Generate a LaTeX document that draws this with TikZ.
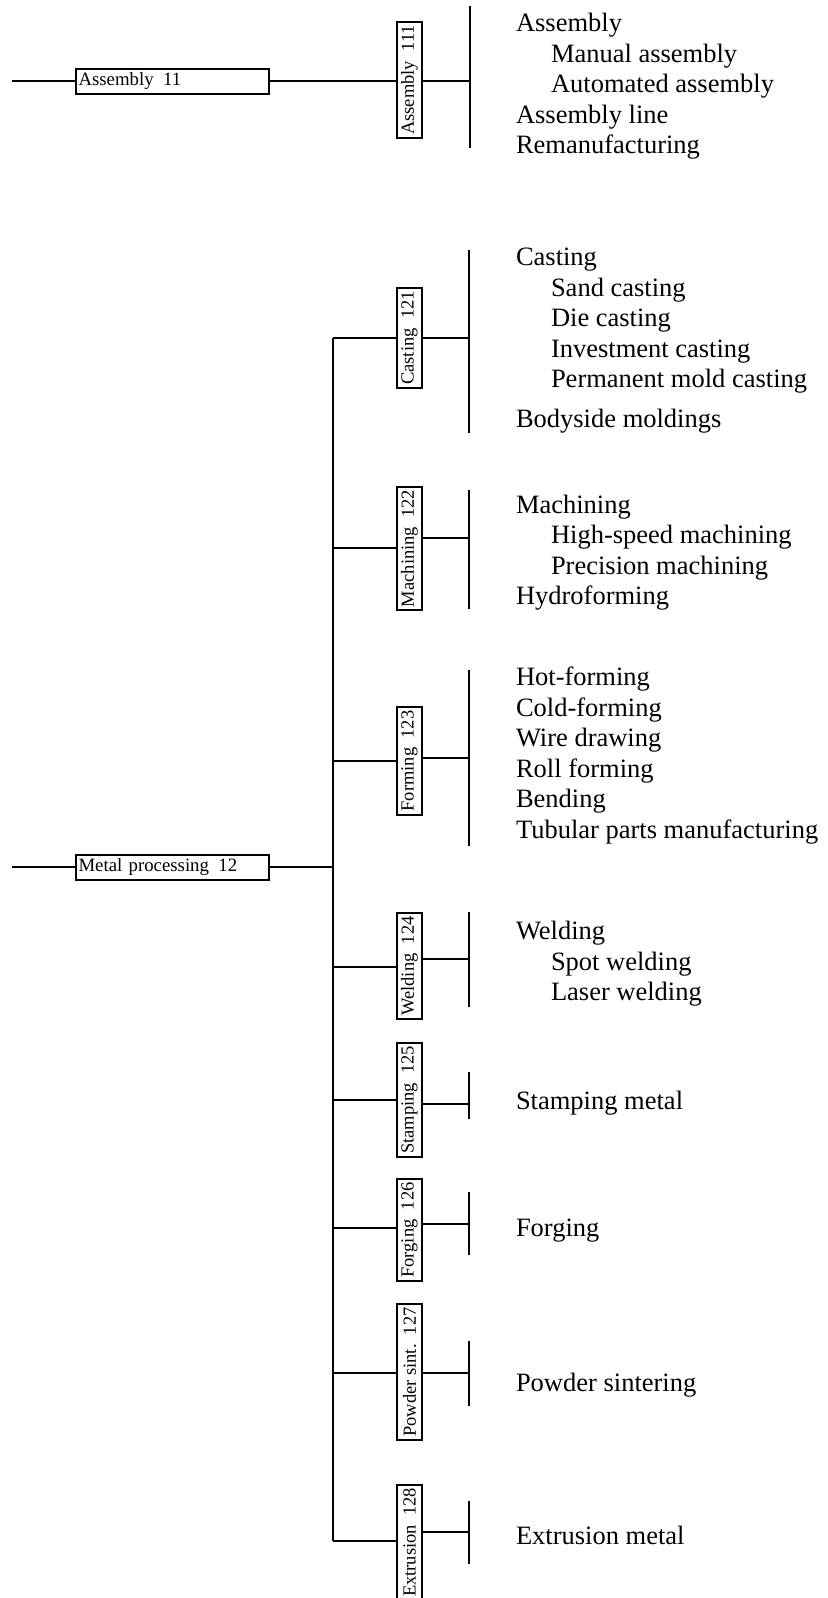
\documentclass[tikz,border=0pt]{standalone}
\usepackage{fontspec}
\setmainfont{Liberation Serif}
\newcommand{\indentitem}{\hspace*{17.5pt}}

\begin{document}
\begin{tikzpicture}[
    x=0.5pt, y=-0.5pt,
    line width=1pt,
    mainbox/.style={
        rectangle, draw, align=left,
        text width=94pt, minimum height=12.5pt, inner sep=1.2pt,
        font=\fontsize{9.4}{11}\selectfont
    },
    subbox/.style={
        rectangle, draw, rotate=90,
        minimum height=12.5pt, inner sep=1.6pt,
        font=\fontsize{9.25}{11}\selectfont
    },
    items/.style={
        anchor=west, align=left, inner sep=0pt,
        font=\fontsize{13.25}{15.25}\selectfont
    }
]
\useasboundingbox (0,0) rectangle (827,1598);

% assembly
\node[mainbox] (a11) at (172.5,81.5) {Assembly\enspace 11};
\node[subbox] (a111) at (409.5,80) {Assembly\enspace 111};
\coordinate (in11) at (12,81.5);
\coordinate (j111) at (470,81);
\coordinate (b111a) at (470,6);
\coordinate (b111b) at (470,148);
\draw (in11) -- (a11.west);
\draw (a11.east) -- (a11.east -| a111.north);
\draw (a111.south |- j111) -- (j111);
\draw (b111a) -- (b111b);
\node[items] (l111) at (515,86.5) {Assembly\\\indentitem Manual assembly\\\indentitem Automated assembly\\Assembly line\\Remanufacturing};

% metal processing
\node[mainbox] (m12) at (172.5,867) {Metal processing\enspace 12};
\coordinate (in12) at (12,867);
\draw (in12) -- (m12.west);

\node[subbox] (c121) at (409.5,338) {Casting\enspace 121};
\node[subbox] (c122) at (409.5,548.5) {Machining\enspace 122};
\node[subbox] (c123) at (409.5,761) {Forming\enspace 123};
\node[subbox] (c124) at (409.5,966) {Welding\enspace 124};
\node[subbox] (c125) at (409.5,1100) {Stamping\enspace 125};
\node[subbox] (c126) at (409.5,1230) {Forging\enspace 126};
\node[subbox] (c127) at (409.5,1372) {Powder sint.\enspace 127};
\node[subbox] (c128) at (409.5,1542.5) {Extrusion\enspace 128};

\coordinate (t121) at (333,338);
\coordinate (t122) at (333,548);
\coordinate (t123) at (333,761);
\coordinate (t124) at (333,967);
\coordinate (t125) at (333,1100);
\coordinate (t126) at (333,1228);
\coordinate (t127) at (333,1373);
\coordinate (t128) at (333,1541);

\draw (m12.east) -- (m12.east -| t121);
\draw (t121) -- (t128);
\draw (t121) -- (c121.north |- t121);
\draw (t122) -- (c122.north |- t122);
\draw (t123) -- (c123.north |- t123);
\draw (t124) -- (c124.north |- t124);
\draw (t125) -- (c125.north |- t125);
\draw (t126) -- (c126.north |- t126);
\draw (t127) -- (c127.north |- t127);
\draw (t128) -- (c128.north |- t128);

\coordinate (j121) at (469,338);
\coordinate (j122) at (469,538);
\coordinate (j123) at (469,758);
\coordinate (j124) at (469,959);
\coordinate (j125) at (469,1104);
\coordinate (j126) at (469,1224);
\coordinate (j127) at (469,1373);
\coordinate (j128) at (469,1532);

\draw (c121.south |- j121) -- (j121);
\draw (c122.south |- j122) -- (j122);
\draw (c123.south |- j123) -- (j123);
\draw (c124.south |- j124) -- (j124);
\draw (c125.south |- j125) -- (j125);
\draw (c126.south |- j126) -- (j126);
\draw (c127.south |- j127) -- (j127);
\draw (c128.south |- j128) -- (j128);

\draw (469,250) -- (469,433);
\draw (469,490) -- (469,609);
\draw (469,670) -- (469,846);
\draw (469,912) -- (469,1007);
\draw (469,1072) -- (469,1119);
\draw (469,1192) -- (469,1255);
\draw (469,1341) -- (469,1406);
\draw (469,1501) -- (469,1564);

\node[items] (l121) at (515,340.5) {Casting\\\indentitem Sand casting\\\indentitem Die casting\\\indentitem Investment casting\\\indentitem Permanent mold casting\\[4.5pt]Bodyside moldings};
\node[items] (l122) at (515,552.5) {Machining\\\indentitem High-speed machining\\\indentitem Precision machining\\Hydroforming};
\node[items] (l123) at (515,755.5) {Hot-forming\\Cold-forming\\Wire drawing\\Roll forming\\Bending\\Tubular parts manufacturing};
\node[items] (l124) at (515,964) {Welding\\\indentitem Spot welding\\\indentitem Laser welding};
\node[items] (l125) at (515,1103) {Stamping metal};
\node[items] (l126) at (515,1231) {Forging};
\node[items] (l127) at (515,1385) {Powder sintering};
\node[items] (l128) at (515,1535) {Extrusion metal};
\end{tikzpicture}
\end{document}
